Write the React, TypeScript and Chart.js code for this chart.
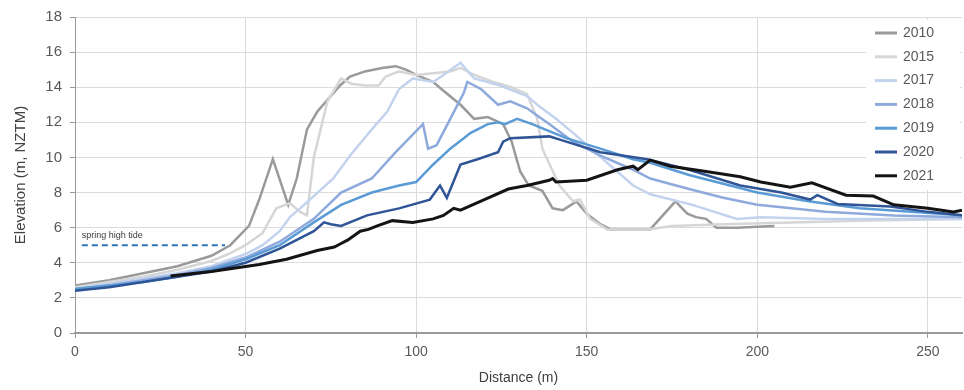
import React, { useEffect, useRef } from "react";
import { Chart, registerables } from "chart.js";

Chart.register(...registerables);

const seriesNames = ["2010", "2015", "2017", "2018", "2019", "2020", "2021"];
const seriesColors = ["#9a9a9a", "#d6d6d6", "#c3d3ee", "#8eaadc", "#5b9bd5", "#2f5597", "#141414"];
const seriesWidths = [2.5, 2.5, 2.5, 2.5, 2.5, 2.5, 3];

const x2010 = [0, 10, 20, 30, 40, 45.5, 51, 54, 58, 62.5, 65, 68, 71, 77.7, 80.6, 85, 90, 94, 97, 100, 105, 108, 113, 117, 121, 125.5, 128, 130.5, 133, 137, 140, 143, 147, 150, 154, 157, 168.6, 176, 179.5, 182, 185, 188, 194, 200, 205];
const y2010 = [2.7, 3.0, 3.4, 3.8, 4.4, 5.0, 6.1, 7.6, 9.9, 7.3, 8.8, 11.6, 12.6, 14.1, 14.6, 14.9, 15.1, 15.2, 15.0, 14.7, 14.3, 13.8, 13.0, 12.2, 12.3, 11.9, 10.9, 9.2, 8.4, 8.1, 7.1, 7.0, 7.5, 6.8, 6.2, 5.9, 5.9, 7.5, 6.8, 6.6, 6.5, 6.0, 6.0, 6.05, 6.1];

const x2015 = [0, 10, 20, 30, 40, 45, 50, 55, 59, 63, 66, 68, 70, 74, 78, 81, 85, 89, 91, 95, 100, 105, 110, 113, 117, 122.6, 128, 132.5, 135.5, 137, 142, 146, 148, 151, 156, 168, 175, 190, 210, 230, 260];
const y2015 = [2.6, 2.9, 3.2, 3.6, 4.1, 4.5, 5.0, 5.7, 7.1, 7.4, 6.9, 6.7, 10.0, 13.2, 14.5, 14.2, 14.1, 14.1, 14.6, 14.9, 14.7, 14.8, 14.9, 15.1, 14.7, 14.3, 14.0, 13.6, 12.2, 10.5, 8.4, 7.5, 7.6, 6.5, 5.9, 5.9, 6.1, 6.2, 6.3, 6.4, 6.5];

const x2017 = [0, 10, 20, 30, 40, 50, 55, 60, 63, 66, 70, 75.7, 80.6, 87, 91.5, 95, 99, 105, 108, 113, 117, 124.6, 132.5, 135.5, 141, 146, 156, 163.6, 168.6, 181, 194, 201, 220, 240, 260];
const y2017 = [2.5, 2.8, 3.1, 3.4, 3.8, 4.5, 5.0, 5.8, 6.6, 7.1, 7.8, 8.8, 10.1, 11.6, 12.6, 13.9, 14.5, 14.3, 14.7, 15.4, 14.5, 14.1, 13.5, 13.0, 12.2, 11.4, 9.7, 8.4, 7.9, 7.3, 6.5, 6.6, 6.5, 6.5, 6.5];

const x2018 = [0, 10, 20, 30, 40, 50, 60, 70, 78, 87, 94, 99, 102, 103.5, 106, 110, 114, 115, 119, 124, 127.6, 132.5, 139, 146, 154, 163.6, 168.6, 180, 190, 200, 220, 240, 260];
const y2018 = [2.5, 2.7, 3.0, 3.3, 3.7, 4.3, 5.2, 6.5, 8.0, 8.8, 10.3, 11.3, 11.9, 10.5, 10.7, 12.2, 13.7, 14.3, 13.9, 13.0, 13.2, 12.8, 11.9, 10.9, 10.1, 9.3, 8.8, 8.2, 7.7, 7.3, 6.9, 6.7, 6.6];

const x2019 = [0, 10, 20, 30, 40, 50, 60, 70, 78, 87, 95, 100, 105, 110, 116, 121, 124, 126, 129.6, 134, 144, 154, 163.6, 168.6, 180, 190, 200, 215, 230, 245, 260];
const y2019 = [2.5, 2.7, 2.9, 3.2, 3.6, 4.2, 5.0, 6.3, 7.3, 8.0, 8.4, 8.6, 9.6, 10.5, 11.4, 11.9, 12.0, 11.9, 12.2, 11.9, 11.1, 10.5, 9.9, 9.7, 9.0, 8.5, 8.0, 7.5, 7.1, 6.9, 6.7];

const x2020 = [0, 10, 20, 30, 40, 50, 60, 70, 73, 75, 78, 85.6, 95, 104, 107, 109, 113, 118, 124, 125.5, 127.6, 139, 144, 154, 167.7, 180, 195, 207, 215.5, 217.6, 223.5, 239, 250, 260];
const y2020 = [2.4, 2.6, 2.9, 3.2, 3.5, 4.0, 4.8, 5.8, 6.3, 6.2, 6.1, 6.7, 7.1, 7.6, 8.4, 7.7, 9.6, 9.9, 10.3, 10.9, 11.1, 11.2, 10.9, 10.3, 9.9, 9.3, 8.4, 8.0, 7.6, 7.85, 7.35, 7.2, 6.9, 6.7];

const x2021 = [28, 40, 54, 62, 71, 76, 78, 80, 83.6, 86, 88.6, 93, 99, 105, 108, 111, 113, 120, 127, 132.5, 139, 140, 141, 150, 159, 163.6, 165, 168.6, 174.5, 185, 195, 201, 209.7, 216, 226, 234, 240, 250, 257.5, 260];
const y2021 = [3.25, 3.5, 3.9, 4.2, 4.7, 4.9, 5.1, 5.3, 5.8, 5.9, 6.1, 6.4, 6.3, 6.5, 6.7, 7.1, 7.0, 7.6, 8.2, 8.4, 8.7, 8.8, 8.6, 8.7, 9.3, 9.5, 9.3, 9.85, 9.5, 9.2, 8.9, 8.6, 8.3, 8.55, 7.85, 7.8, 7.3, 7.1, 6.9, 7.0];

const xTide = [2, 44];
const yTide = [5.0, 5.0];
const tideLabel = "spring high tide";

const xTickValues = [0, 50, 100, 150, 200, 250];
const yTickStep = 2;

const xSeries = [x2010, x2015, x2017, x2018, x2019, x2020, x2021];
const ySeries = [y2010, y2015, y2017, y2018, y2019, y2020, y2021];

const toPoints = (xs: number[], ys: number[]) => xs.map((x, i) => ({ x, y: ys[i] }));

const FONT = '"Liberation Sans", Arial, sans-serif';

const legendPlugin = {
  id: "customLegend",
  afterDraw(chart: any) {
    const ctx = chart.ctx;
    const { right, top } = chart.chartArea;
    ctx.save();
    ctx.fillStyle = "#ffffff";
    ctx.fillRect(right - 96, top + 3, 94, 170);
    seriesNames.forEach((name, i) => {
      const y = top + 16 + i * 23.8;
      ctx.strokeStyle = seriesColors[i];
      ctx.lineWidth = 3;
      ctx.beginPath();
      ctx.moveTo(right - 87, y);
      ctx.lineTo(right - 65, y);
      ctx.stroke();
      ctx.fillStyle = "#595959";
      ctx.font = "14px " + FONT;
      ctx.textBaseline = "middle";
      ctx.textAlign = "left";
      ctx.fillText(name, right - 59, y);
    });
    ctx.restore();
  },
};

const tideLabelPlugin = {
  id: "tideLabel",
  afterDatasetsDraw(chart: any) {
    const ctx = chart.ctx;
    const xs = chart.scales.x;
    const ys = chart.scales.y;
    ctx.save();
    ctx.fillStyle = "#404040";
    ctx.font = "9px " + FONT;
    ctx.textBaseline = "bottom";
    ctx.textAlign = "left";
    ctx.fillText(tideLabel, xs.getPixelForValue(xTide[0]), ys.getPixelForValue(yTide[0]) - 5);
    ctx.restore();
  },
};

export default function App() {
  const canvasRef = useRef<HTMLCanvasElement | null>(null);

  useEffect(() => {
    if (!canvasRef.current) return;
    const datasets: any[] = seriesNames.map((name, i) => ({
      label: name,
      data: toPoints(xSeries[i], ySeries[i]),
      borderColor: seriesColors[i],
      backgroundColor: seriesColors[i],
      borderWidth: seriesWidths[i],
      pointRadius: 0,
      tension: 0,
      fill: false,
      order: 10 - i,
    }));
    datasets.push({
      label: tideLabel,
      data: toPoints(xTide, yTide),
      borderColor: "#2e75b6",
      borderWidth: 2,
      borderDash: [6, 4],
      pointRadius: 0,
      fill: false,
      order: 20,
    });

    const chart = new Chart(canvasRef.current, {
      type: "line",
      data: { datasets },
      options: {
        animation: false,
        responsive: false,
        layout: { padding: { top: 15, right: 2, left: 0, bottom: 0 } },
        plugins: {
          legend: { display: false },
          tooltip: { enabled: false },
        },
        scales: {
          x: {
            type: "linear",
            min: 0,
            max: 260,
            afterBuildTicks: (s: any) => {
              s.ticks = xTickValues.map((v) => ({ value: v }));
            },
            afterFit: (s: any) => {
              s.height = 57;
            },
            ticks: { color: "#595959", font: { family: FONT, size: 14 }, padding: 6 },
            grid: { color: "#dcdcdc", tickColor: "#9a9a9a", tickLength: 5, lineWidth: 1 },
            border: { color: "#9a9a9a", width: 2 },
            title: {
              display: true,
              text: "Distance (m)",
              color: "#404040",
              font: { family: FONT, size: 14 },
              padding: { top: 0, bottom: 3 },
            },
          },
          y: {
            type: "linear",
            min: 0,
            max: 18,
            afterFit: (s: any) => {
              s.width = 75;
            },
            ticks: { stepSize: yTickStep, color: "#595959", font: { family: FONT, size: 15 }, padding: 8 },
            grid: { color: "#dcdcdc", tickColor: "#9a9a9a", tickLength: 5, lineWidth: 1 },
            border: { color: "#9a9a9a", width: 1 },
            title: {
              display: true,
              text: "Elevation (m, NZTM)",
              color: "#404040",
              font: { family: FONT, size: 15 },
              padding: { top: 12, bottom: 0 },
            },
          },
        },
      },
      plugins: [tideLabelPlugin, legendPlugin],
    } as any);
    return () => chart.destroy();
  }, []);

  return (
    <div style={{ position: "absolute", left: 0, top: 0, width: 964, height: 390, background: "#fff" }}>
      <canvas ref={canvasRef} width={964} height={390} />
    </div>
  );
}
